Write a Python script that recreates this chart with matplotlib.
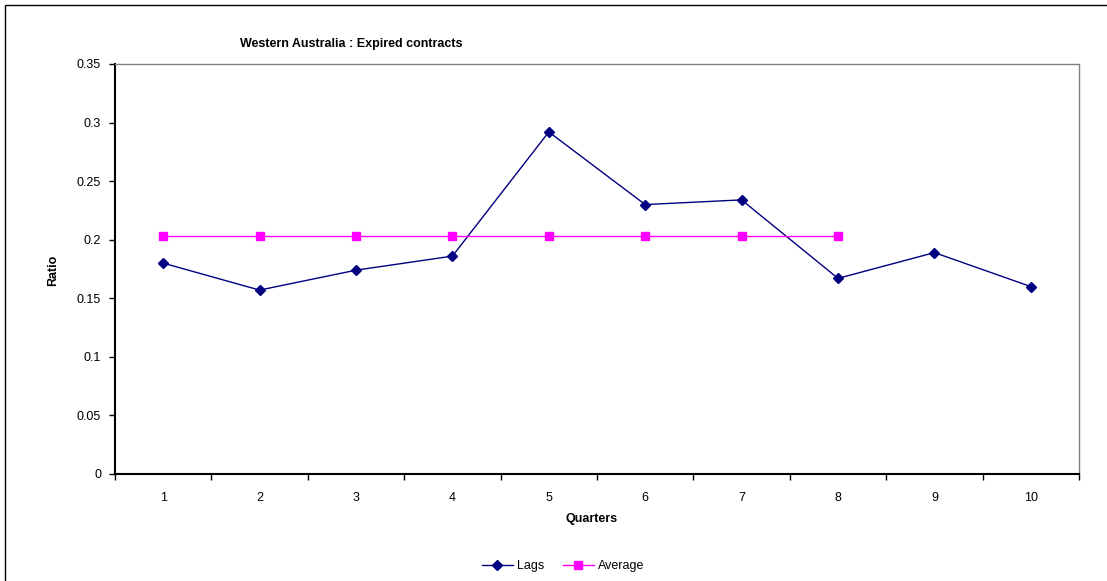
import matplotlib.pyplot as plt
from matplotlib.patches import Rectangle

plt.rcParams['font.family'] = ['Liberation Sans', 'DejaVu Sans']

#-------------------------------------------------------------------
# Dados
quarters = [1, 2, 3, 4, 5, 6, 7, 8, 9, 10]
lags     = [0.180, 0.157, 0.174, 0.186, 0.292, 0.230, 0.234, 0.167, 0.189, 0.160]
avg_q    = [1, 2, 3, 4, 5, 6, 7, 8]
average  = [0.203, 0.203, 0.203, 0.203, 0.203, 0.203, 0.203, 0.203]
yticks   = [0, 0.05, 0.1, 0.15, 0.2, 0.25, 0.3, 0.35]
ylabels  = ['0', '0.05', '0.1', '0.15', '0.2', '0.25', '0.3', '0.35']

#-------------------------------------------------------------------
fig = plt.figure(figsize=(11.07, 5.81), dpi=100)
fig.patches.append(Rectangle((5/1107, -0.1), 1.2, (581-5)/581 + 0.1,
                             transform=fig.transFigure, fill=False,
                             edgecolor='black', linewidth=1.0))
ax = fig.add_axes([115/1107, 107/581, 964/1107, 410/581])

ax.plot(quarters, lags, color='#000080', marker='D', markersize=5,
        linewidth=1.0, label='Lags')
ax.plot(avg_q, average, color='#FF00FF', marker='s', markersize=6,
        linewidth=1.0, label='Average')

fs = 9
ax.set_xlim(0.5, 10.5)
ax.set_ylim(0, 0.35)
ax.set_yticks(yticks)
ax.set_yticklabels(ylabels, fontsize=fs)
ax.set_xticks(quarters)
ax.set_xticklabels([str(q) for q in quarters], fontsize=fs)
ax.set_xticks([q + 0.5 for q in range(0, 11)], minor=True)
ax.tick_params(axis='x', which='major', length=0, pad=13)
ax.tick_params(axis='x', which='minor', direction='out', length=4, width=1)
ax.tick_params(axis='y', direction='out', length=4, width=1, pad=6)

for s in ['left', 'bottom']:
    ax.spines[s].set_linewidth(1.5)
    ax.spines[s].set_color('black')
for s in ['top', 'right']:
    ax.spines[s].set_linewidth(1.0)
    ax.spines[s].set_color('#808080')

fig.text(351/1107, 1 - 44/581, 'Western Australia : Expired contracts',
         ha='center', va='center', fontsize=fs, fontweight='bold')
fig.text(53/1107, 1 - 270/581, 'Ratio', ha='center', va='center',
         rotation=90, fontsize=fs, fontweight='bold')
fig.text(592/1107, 1 - 519/581, 'Quarters', ha='center', va='center',
         fontsize=fs, fontweight='bold')

fig.legend(loc='center', bbox_to_anchor=(563/1107, 15/581), ncol=2,
           frameon=False, fontsize=fs, handlelength=2.5, columnspacing=1.5,
           handletextpad=0.3)

fig.savefig('out.png', dpi=100)
